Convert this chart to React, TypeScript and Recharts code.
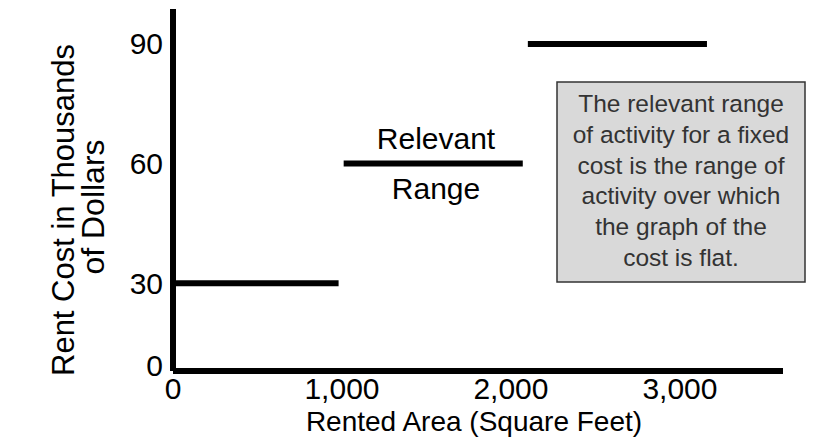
import { LineChart, Line, XAxis, YAxis, Customized } from 'recharts';

// step cost: rent in thousands of dollars over rented area (sq ft)
const tierLow = [{ x: 0, y: 30 }, { x: 980, y: 30 }];
const tierMid = [{ x: 1010, y: 60 }, { x: 2070, y: 60 }];
const tierHigh = [{ x: 2100, y: 90 }, { x: 3160, y: 90 }];

const xTicks = [0, 1000, 2000, 3000];
const yTicks = [8, 30, 60, 90];
const yAxisBase = 8; // axis is broken below 30, bottom shown as "0"

const noteLines = [
  'The relevant range',
  'of activity for a fixed',
  'cost is the range of',
  'activity over which',
  'the graph of the',
  'cost is flat.',
];

const FONT = '"Liberation Sans", Arial, sans-serif';

function YTick(props: any) {
  const { x, y, payload } = props;
  const base = payload.value === yAxisBase;
  return (
    <text
      x={x}
      y={base ? y - 6 : y}
      dy={10.5}
      textAnchor="end"
      fontSize={30}
      fontFamily={FONT}
      fill="#000"
    >
      {base ? '0' : payload.value}
    </text>
  );
}

function Annotations() {
  return (
    <g fontFamily={FONT} fill="#000">
      <text transform="translate(74, 210) rotate(-90)" textAnchor="middle" fontSize={31}>
        Rent Cost in Thousands
      </text>
      <text transform="translate(104, 207) rotate(-90)" textAnchor="middle" fontSize={32}>
        of Dollars
      </text>
      <text x={474} y={431} textAnchor="middle" fontSize={28}>
        Rented Area (Square Feet)
      </text>
      <text x={436} y={149} textAnchor="middle" fontSize={30}>
        Relevant
      </text>
      <text x={436} y={199} textAnchor="middle" fontSize={30}>
        Range
      </text>
      <rect x={557} y={82} width={248} height={200} fill="#d9d9d9" stroke="#333" strokeWidth={1.5} />
      {noteLines.map((t, i) => (
        <text key={t} x={681} y={112 + i * 30.8} textAnchor="middle" fontSize={24.5} fill="#333">
          {t}
        </text>
      ))}
    </g>
  );
}

export default function App() {
  return (
    <div style={{ position: 'absolute', left: 0, top: 0 }}>
      <LineChart width={825} height={448} margin={{ top: 9, right: 42, bottom: 0, left: 0 }}>
        <XAxis
          type="number"
          dataKey="x"
          domain={[0, 3610]}
          ticks={xTicks}
          allowDataOverflow
          tickFormatter={(v: number) => v.toLocaleString('en-US')}
          axisLine={{ stroke: '#000', strokeWidth: 6 }}
          tickLine={false}
          tickMargin={1}
          height={77}
          tick={{ fill: '#000', fontSize: 30, fontFamily: FONT }}
        />
        <YAxis
          type="number"
          dataKey="y"
          domain={[yAxisBase, 98.75]}
          ticks={yTicks}
          allowDataOverflow
          axisLine={{ stroke: '#000', strokeWidth: 6 }}
          tickLine={false}
          tickMargin={4}
          width={173}
          tick={<YTick />}
        />
        <Line data={tierLow} dataKey="y" stroke="#000" strokeWidth={6} dot={false} isAnimationActive={false} />
        <Line data={tierMid} dataKey="y" stroke="#000" strokeWidth={6} dot={false} isAnimationActive={false} />
        <Line data={tierHigh} dataKey="y" stroke="#000" strokeWidth={6} dot={false} isAnimationActive={false} />
        <Customized component={Annotations} />
      </LineChart>
    </div>
  );
}
